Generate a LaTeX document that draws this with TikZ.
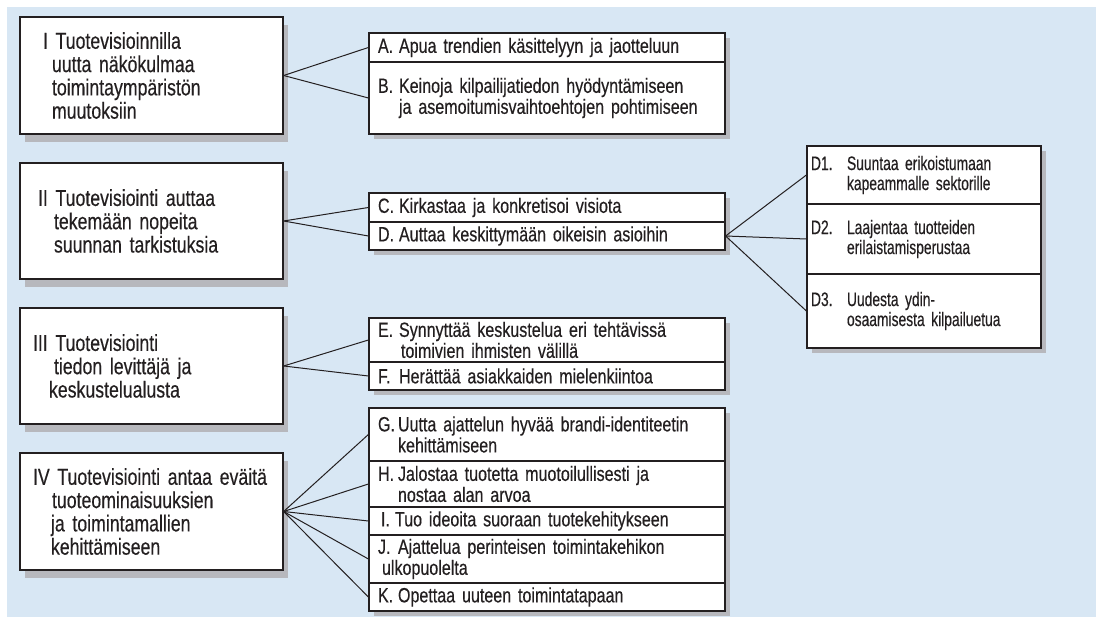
\documentclass[tikz,border=0pt]{standalone}
\usepackage{fontspec}
\setmainfont[FakeStretch=0.78,FakeBold=0.35]{Liberation Sans}
\newfontfamily\themefont[FakeStretch=0.77,FakeBold=0.35]{Liberation Sans}
\newfontfamily\itemfont[FakeStretch=0.78,FakeBold=0.35]{Liberation Sans}
\newfontfamily\subfont[FakeStretch=0.71,FakeBold=0.35]{Liberation Sans}
\usetikzlibrary{shadows}

\definecolor{bgblue}{RGB}{216,231,244}
\definecolor{shade}{RGB}{183,184,189}
\definecolor{ink}{RGB}{35,31,32}

% label columns for the lettered items
\newcommand\lab[1]{\makebox[21pt][l]{#1}}
\newcommand\glab[1]{\makebox[20pt][l]{#1}}
\newcommand\dlab[1]{\makebox[36pt][l]{#1}}

\tikzset{
  lbox/.style={draw=ink, line width=1.3pt, fill=white, text=ink,
    minimum height=#1, text width=237pt, inner xsep=13pt, inner ysep=0pt,
    align=left, font=\themefont\fontsize{23}{23.3}\selectfont,
    drop shadow={shadow xshift=5pt, shadow yshift=-8pt, fill=shade, opacity=1}},
  mcell/.style={draw=ink, line width=1.2pt, fill=white, text=ink,
    minimum height=#1, text width=338pt, inner xsep=9pt, inner ysep=0pt,
    align=left, font=\itemfont\fontsize{20.6}{21}\selectfont,
    drop shadow={shadow xshift=5pt, shadow yshift=-5pt, fill=shade, opacity=1}},
  dcell/.style={draw=ink, line width=1.2pt, fill=white, text=ink,
    minimum height=#1, text width=226pt, inner xsep=4pt, inner ysep=0pt,
    align=left, font=\subfont\fontsize{19.5}{20}\selectfont,
    drop shadow={shadow xshift=5pt, shadow yshift=-5pt, fill=shade, opacity=1}},
  link/.style={draw=ink, line width=1pt}
}

\begin{document}
\begin{tikzpicture}[x=1pt,y=-1pt]
\useasboundingbox (0,0) rectangle (1096,617);
\fill[bgblue] (7,7) rectangle (1096,617);

% main themes
\node[lbox=117pt] (I) at (151.5,75.5)
  {\hspace*{10pt}I Tuotevisioinnilla\\\hspace*{19pt}uutta näkökulmaa\\\hspace*{19pt}toimintaympäristön\\\hspace*{19pt}muutoksiin};
\node[lbox=116pt] (II) at (151.5,221)
  {\hspace*{5pt}II Tuotevisiointi auttaa\\\hspace*{21pt}tekemään nopeita\\\hspace*{21pt}suunnan tarkistuksia};
\node[lbox=116pt] (III) at (151.5,366)
  {III Tuotevisiointi\\\hspace*{21pt}tiedon levittäjä ja\\\hspace*{16pt}keskustelualusta};
\node[lbox=117pt] (IV) at (151.5,511.5)
  {\mbox{IV Tuotevisiointi antaa eväitä}\\\hspace*{19pt}tuoteominaisuuksien\\\hspace*{18pt}ja toimintamallien\\\hspace*{18pt}kehittämiseen};

% group I
\node[mcell=29pt] (A) at (547,47.5) {\lab{A.}Apua trendien käsittelyyn ja jaotteluun};
\node[mcell=72pt] (B) at (547,98) {\lab{B.}Keinoja kilpailijatiedon hyödyntämiseen\\\hspace*{21pt}ja asemoitumisvaihtoehtojen pohtimiseen};

% group II
\node[mcell=29pt] (C) at (547,207.5) {\lab{C.}Kirkastaa ja konkretisoi visiota};
\node[mcell=28pt] (D) at (547,236) {\lab{D.}Auttaa keskittymään oikeisin asioihin};

% group III
\node[mcell=44pt] (E) at (547,340) {\lab{E.}Synnyttää keskustelua eri tehtävissä\\\hspace*{23pt}toimivien ihmisten välillä};
\node[mcell=28pt] (F) at (547,376) {\lab{F.}Herättää asiakkaiden mielenkiintoa};

% group IV
\node[mcell=53pt] (G) at (547,434.5) {\glab{G.}Uutta ajattelun hyvää brandi-identiteetin\\\hspace*{20pt}kehittämiseen};
\node[mcell=46pt] (H) at (547,484) {\glab{H.}Jalostaa tuotetta muotoilullisesti ja\\\hspace*{20pt}nostaa alan arvoa};
\node[mcell=28pt] (Ii) at (547,521) {\hspace*{3pt}\makebox[14pt][l]{I.}Tuo ideoita suoraan tuotekehitykseen};
\node[mcell=48pt] (J) at (547,559) {\glab{J.}Ajattelua perinteisen toimintakehikon\\\hspace*{4pt}ulkopuolelta};
\node[mcell=28pt] (K) at (547,597) {\glab{K.}Opettaa uuteen toimintatapaan};

% refinements of D
\node[dcell=58pt] (D1) at (924,175) {\dlab{D1.}Suuntaa erikoistumaan\\\hspace*{36pt}kapeammalle sektorille};
\node[dcell=70pt] (D2) at (924,239) {\dlab{D2.}Laajentaa tuotteiden\\\hspace*{36pt}erilaistamisperustaa};
\node[dcell=74pt] (D3) at (924,311) {\dlab{D3.}Uudesta ydin-\\\hspace*{36pt}osaamisesta kilpailuetua};

% connectors
\draw[link] (I.east) -- (A.west);
\draw[link] (I.east) -- (B.west);
\draw[link] (II.east) -- (C.west);
\draw[link] (II.east) -- (D.west);
\draw[link] (III.east) -- (E.west);
\draw[link] (III.east) -- (F.west);
\draw[link] (IV.east) -- (G.west);
\draw[link] (IV.east) -- (H.west);
\draw[link] (IV.east) -- (Ii.west);
\draw[link] (IV.east) -- (J.west);
\draw[link] (IV.east) -- (K.west);
\draw[link] (D.east) -- (D1.west);
\draw[link] (D.east) -- (D2.west);
\draw[link] (D.east) -- (D3.west);
\end{tikzpicture}
\end{document}
